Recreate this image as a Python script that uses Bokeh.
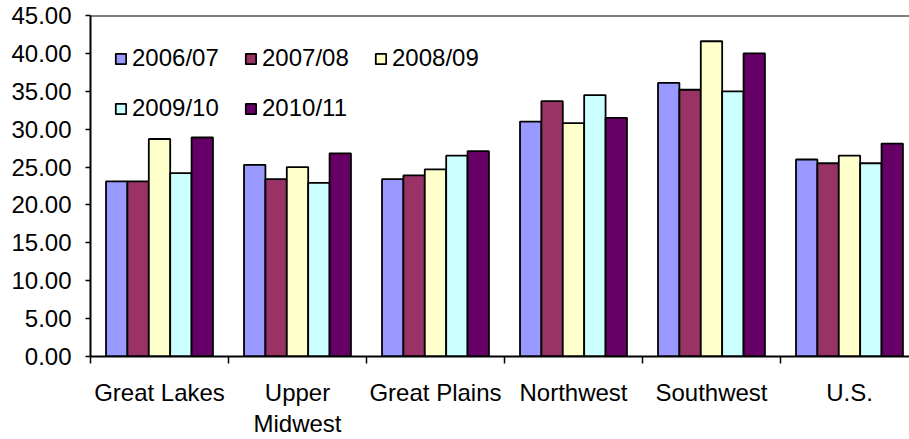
from bokeh.plotting import figure
from bokeh.models import (Range1d, FixedTicker, Legend, LegendItem, Span,
                          ColumnDataSource)
from bokeh.embed import file_html
from bokeh.resources import INLINE

# Regions and seasons
regions = ["Great Lakes", "Upper\nMidwest", "Great Plains", "Northwest", "Southwest", "U.S."]
seasons = ["2006/07", "2007/08", "2008/09", "2009/10", "2010/11"]

# Values per season, one entry per region
s2006_07 = [23.1, 25.3, 23.4, 31.0, 36.1, 26.0]
s2007_08 = [23.1, 23.4, 23.9, 33.7, 35.2, 25.5]
s2008_09 = [28.7, 25.0, 24.7, 30.8, 41.6, 26.5]
s2009_10 = [24.2, 22.9, 26.5, 34.5, 35.0, 25.5]
s2010_11 = [28.9, 26.8, 27.1, 31.5, 40.0, 28.1]

series = [s2006_07, s2007_08, s2008_09, s2009_10, s2010_11]
colors = ["#9999FF", "#993366", "#FFFFCC", "#CCFFFF", "#660066"]

y_ticks = [0, 5, 10, 15, 20, 25, 30, 35, 40, 45]

FONT = "Liberation Sans"
FSIZE = "24px"
BAR_W = 0.155

p = figure(width=909, height=439, output_backend="svg", toolbar_location=None,
           x_range=Range1d(0, 5.935), y_range=Range1d(0, 45),
           min_border_left=90, min_border_right=0, min_border_top=15,
           min_border_bottom=82)
p.outline_line_color = None
p.xgrid.visible = False
p.ygrid.visible = False
p.background_fill_color = "white"

items = []
for j, (vals, col, name) in enumerate(zip(series, colors, seasons)):
    xs = [i + 0.5 + (j - 2) * BAR_W for i in range(len(regions))]
    src = ColumnDataSource(dict(x=xs, top=vals))
    r = p.vbar(x="x", top="top", bottom=0, width=BAR_W, source=src,
               fill_color=col, line_color="black", line_width=1.8)
    items.append(LegendItem(label=name, renderers=[r]))

# top border of the plot area
p.add_layout(Span(location=45, dimension="width", line_color="black", line_width=2))

# y axis
yax = p.yaxis[0]
yax.ticker = FixedTicker(ticks=y_ticks, minor_ticks=[])
yax.major_label_overrides = {t: f"{t:.2f}" for t in y_ticks}
yax.axis_line_color = "black"
yax.axis_line_width = 2
yax.major_tick_line_color = "black"
yax.major_tick_line_width = 1.5
yax.major_tick_in = 0
yax.major_tick_out = 5
yax.minor_tick_in = 0
yax.minor_tick_out = 0
yax.minor_tick_line_color = None
yax.major_label_standoff = 14
yax.major_label_text_font = FONT
yax.major_label_text_font_size = FSIZE
yax.major_label_text_color = "black"

# x axis: labels at category centres, tick marks at category boundaries
xax = p.xaxis[0]
centers = [i + 0.5 for i in range(len(regions))]
xax.ticker = FixedTicker(ticks=centers, minor_ticks=list(range(len(regions) + 1)))
xax.major_label_overrides = {c: lab for c, lab in zip(centers, regions)}
xax.axis_line_color = "black"
xax.axis_line_width = 2
xax.major_tick_line_color = None
xax.major_tick_in = 0
xax.major_tick_out = 0
xax.minor_tick_line_color = "black"
xax.minor_tick_line_width = 1.5
xax.minor_tick_in = 0
xax.minor_tick_out = 7
xax.major_label_standoff = 15
xax.major_label_text_font = FONT
xax.major_label_text_font_size = FSIZE
xax.major_label_text_color = "black"
xax.major_label_text_line_height = 1.15

legend = Legend(items=items, location="top_left", orientation="horizontal", ncols=3,
                margin=24, padding=0, spacing=12,
                glyph_width=13, glyph_height=13, label_standoff=5,
                label_width=100, label_height=38,
                label_text_font=FONT, label_text_font_size=FSIZE,
                label_text_color="black",
                border_line_color=None, background_fill_alpha=0)
p.add_layout(legend)

open("out.html", "w").write(file_html(p, INLINE))
